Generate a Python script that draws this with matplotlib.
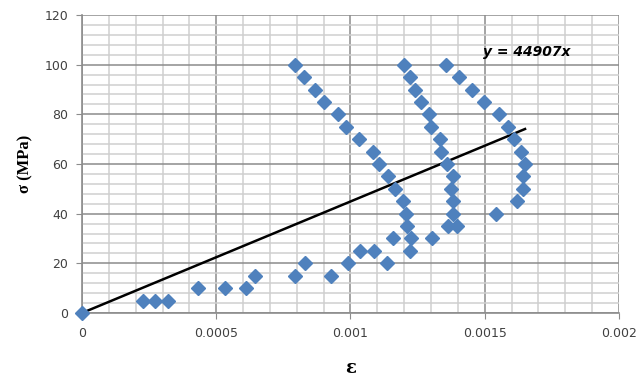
import matplotlib
matplotlib.use('Agg')
import matplotlib.pyplot as plt
from matplotlib.ticker import MultipleLocator
import numpy as np

# strain / stress values (three load cycles)
strain = [0, 0.000227, 0.000272, 0.00032, 0.000431, 0.000533, 0.000611, 0.000644,
          0.000793, 0.00083, 0.000926, 0.000991, 0.001035, 0.001089, 0.001135, 0.00116,
          0.001222, 0.001224, 0.001212, 0.001207, 0.001197, 0.001165, 0.001139, 0.001105,
          0.001085, 0.001030, 0.000985, 0.000952, 0.000903, 0.000868, 0.000825, 0.000793,
          0.001302, 0.001364, 0.001398, 0.001383, 0.001382, 0.001375, 0.001381, 0.001358,
          0.001336, 0.001335, 0.001298, 0.001293, 0.001262, 0.001239, 0.00122, 0.0012,
          0.001543, 0.001621, 0.001644, 0.001644, 0.00165, 0.001635, 0.00161, 0.001586,
          0.001553, 0.001497, 0.001452, 0.001405, 0.001357]
stress = [0, 5, 5, 5, 10, 10, 10, 15,
          15, 20, 15, 20, 25, 25, 20, 30,
          25, 30, 35, 40, 45, 50, 55, 60,
          65, 70, 75, 80, 85, 90, 95, 100,
          30, 35, 35, 40, 45, 50, 55, 60,
          65, 70, 75, 80, 85, 90, 95, 100,
          40, 45, 50, 55, 60, 65, 70, 75,
          80, 85, 90, 95, 100]
slope = 44907

fig = plt.figure(figsize=(6.42, 3.81), dpi=100)
ax = fig.add_axes([0.1277, 0.1785, 0.8365, 0.7821])

ax.set_xlim(0, 0.002)
ax.set_ylim(0, 120)
ax.xaxis.set_major_locator(MultipleLocator(0.0005))
ax.xaxis.set_minor_locator(MultipleLocator(0.0001))
ax.yaxis.set_major_locator(MultipleLocator(20))
ax.yaxis.set_minor_locator(MultipleLocator(4))
ax.grid(which='major', color='#8c8c8c', linewidth=1.1)
ax.grid(which='minor', color='#cfcfcf', linewidth=1.1)
ax.set_axisbelow(True)

for s in ['top', 'right']:
    ax.spines[s].set_visible(False)
for s in ['left', 'bottom']:
    ax.spines[s].set_color('#8c8c8c')
    ax.spines[s].set_linewidth(1.2)
ax.tick_params(which='major', length=4, color='#8c8c8c', labelsize=9,
               labelcolor='#404040', pad=6)
ax.tick_params(which='minor', length=0)
ax.set_xticks([0, 0.0005, 0.001, 0.0015, 0.002])
ax.set_xticklabels(['0', '0.0005', '0.001', '0.0015', '0.002'])

# trendline through origin
xl = np.array([0, max(strain)])
ax.plot(xl, slope * xl, color='black', linewidth=1.8, zorder=2)

ax.plot(strain, stress, linestyle='none', marker='D', markersize=6.8,
        color='#4f81bd', zorder=3, clip_on=False)

ax.text(0.001492, 105, 'y = 44907x', fontsize=10, fontweight='bold',
        fontstyle='italic', va='center', ha='left')

ax.set_xlabel('ε', fontsize=13, fontweight='bold', family='DejaVu Serif', labelpad=14)
ax.set_ylabel('σ (MPa)', fontsize=12, fontweight='bold', family='Liberation Serif', labelpad=8)

plt.savefig('out.png', dpi=100)
